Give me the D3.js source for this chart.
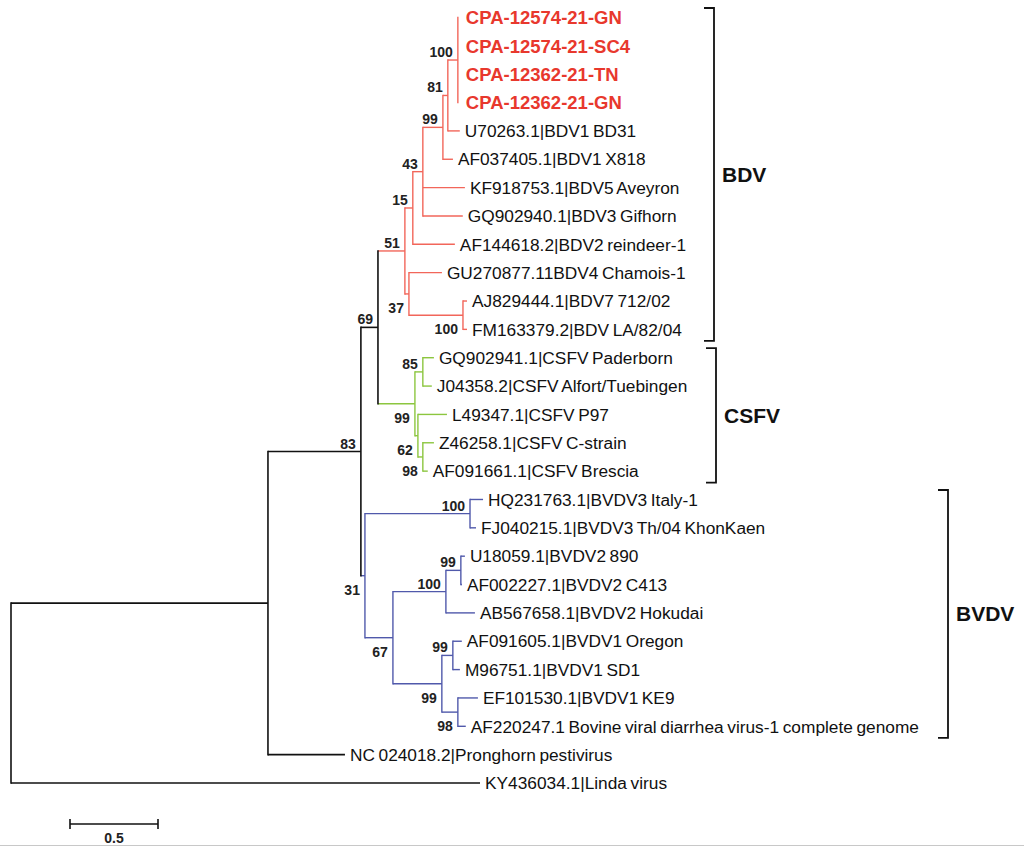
<!DOCTYPE html>
<html>
<head>
<meta charset="utf-8">
<script src="https://cdn.jsdelivr.net/npm/d3@7"></script>
<style>
  html, body { margin: 0; padding: 0; background: #fff; }
  svg { display: block; }
</style>
</head>
<body>
<svg id="chart" width="1024" height="846"></svg>
<script>
// ---------- DATA ----------
// Leaf labels, top to bottom
const leaves = [
  "CPA-12574-21-GN", "CPA-12574-21-SC4", "CPA-12362-21-TN", "CPA-12362-21-GN",
  "U70263.1|BDV1 BD31", "AF037405.1|BDV1 X818", "KF918753.1|BDV5 Aveyron",
  "GQ902940.1|BDV3 Gifhorn", "AF144618.2|BDV2 reindeer-1", "GU270877.11BDV4 Chamois-1",
  "AJ829444.1|BDV7 712/02", "FM163379.2|BDV LA/82/04",
  "GQ902941.1|CSFV Paderborn", "J04358.2|CSFV Alfort/Tuebingen", "L49347.1|CSFV P97",
  "Z46258.1|CSFV C-strain", "AF091661.1|CSFV Brescia",
  "HQ231763.1|BVDV3 Italy-1", "FJ040215.1|BVDV3 Th/04 KhonKaen",
  "U18059.1|BVDV2 890", "AF002227.1|BVDV2 C413", "AB567658.1|BVDV2 Hokudai",
  "AF091605.1|BVDV1 Oregon", "M96751.1|BVDV1 SD1", "EF101530.1|BVDV1 KE9",
  "AF220247.1 Bovine viral diarrhea virus-1 complete genome",
  "NC 024018.2|Pronghorn pestivirus", "KY436034.1|Linda virus"
];

// Study isolates (highlighted)
const highlighted = leaves.slice(0, 4);

// Tree edges: [child, parent, branch length (substitutions/site)]
const edges = [
  ["A", "root", 1.460],
  ["KY436034.1|Linda virus", "root", 2.665],
  ["B", "A", 0.528],
  ["NC 024018.2|Pronghorn pestivirus", "A", 0.4375],
  ["n69", "B", 0.097],
  ["n31", "B", 0.023],
  ["n51", "n69", 0.153],
  ["nCSFV", "n69", 0.210],
  ["n15", "n51", 0.045],
  ["n37", "n51", 0.023],
  ["n43", "n15", 0.057],
  ["AF144618.2|BDV2 reindeer-1", "n15", 0.239],
  ["n99a", "n43", 0.114],
  ["KF918753.1|BDV5 Aveyron", "n43", 0.239],
  ["GQ902940.1|BDV3 Gifhorn", "n43", 0.227],
  ["n81", "n99a", 0.028],
  ["AF037405.1|BDV1 X818", "n99a", 0.057],
  ["nCPA", "n81", 0.057],
  ["U70263.1|BDV1 BD31", "n81", 0.068],
  ["CPA-12574-21-GN", "nCPA", 0],
  ["CPA-12574-21-SC4", "nCPA", 0],
  ["CPA-12362-21-TN", "nCPA", 0],
  ["CPA-12362-21-GN", "nCPA", 0],
  ["GU270877.11BDV4 Chamois-1", "n37", 0.1875],
  ["n100aj", "n37", 0.307],
  ["AJ829444.1|BDV7 712/02", "n100aj", 0.023],
  ["FM163379.2|BDV LA/82/04", "n100aj", 0.023],
  ["n85", "nCSFV", 0.045],
  ["n62", "nCSFV", 0.017],
  ["GQ902941.1|CSFV Paderborn", "n85", 0.063],
  ["J04358.2|CSFV Alfort/Tuebingen", "n85", 0.051],
  ["L49347.1|CSFV P97", "n62", 0.165],
  ["n98c", "n62", 0.028],
  ["Z46258.1|CSFV C-strain", "n98c", 0.063],
  ["AF091661.1|CSFV Brescia", "n98c", 0.028],
  ["n100b3", "n31", 0.597],
  ["n67", "n31", 0.159],
  ["HQ231763.1|BVDV3 Italy-1", "n100b3", 0.074],
  ["FJ040215.1|BVDV3 Th/04 KhonKaen", "n100b3", 0.034],
  ["n100b2", "n67", 0.301],
  ["n99e", "n67", 0.278],
  ["n99d", "n100b2", 0.085],
  ["AB567658.1|BVDV2 Hokudai", "n100b2", 0.165],
  ["U18059.1|BVDV2 890", "n99d", 0.023],
  ["AF002227.1|BVDV2 C413", "n99d", 0.006],
  ["n99f", "n99e", 0.0625],
  ["n98g", "n99e", 0.091],
  ["AF091605.1|BVDV1 Oregon", "n99f", 0.051],
  ["M96751.1|BVDV1 SD1", "n99f", 0.040],
  ["EF101530.1|BVDV1 KE9", "n98g", 0.114],
  ["AF220247.1 Bovine viral diarrhea virus-1 complete genome", "n98g", 0.045]
];

// Bootstrap support values at internal nodes
const bootNodes  = ["nCPA","n81","n99a","n43","n15","n51","n37","n100aj","n69","nCSFV","n85","n62","n98c","B","n31","n100b3","n67","n100b2","n99d","n99e","n99f","n98g"];
const bootValues = [100,    81,   99,    43,   15,   51,   37,   100,     69,   99,     85,   62,   98,    83, 31,   100,     67,   100,     99,    99,    99,    98];

// Clades: names, root node, leaf index range
const cladeNames = ["BDV", "CSFV", "BVDV"];
const cladeRoots = ["n51", "nCSFV", "n31"];
const cladeFirst = [0, 12, 17];
const cladeLast  = [11, 16, 25];

// Scale bar length
const scaleBarValue = 0.5;

// ---------- STYLE ----------
const cladeColors = { BDV: "#f2665a", CSFV: "#8cc63f", BVDV: "#5059ab" };
const highlightColor = "#e8382d";
const belowLabel = new Set(["n37","n100aj","nCSFV","n62","n98c","n31","n67","n99e","n98g"]);
const font = "'Liberation Sans', Arial, Helvetica, sans-serif";

// ---------- LAYOUT ----------
const svg = d3.select("#chart");
const x = d3.scaleLinear().domain([0, 1]).range([11, 187]);
const y = d3.scaleLinear().domain([0, leaves.length - 1]).range([17.5, 783]);

const table = [["root", null, 0]].concat(edges);
const root = d3.stratify().id(d => d[0]).parentId(d => d[1])(table);

root.eachAfter(n => {
  n.minIdx = n.children ? d3.min(n.children, c => c.minIdx) : leaves.indexOf(n.id);
});
root.sort((a, b) => a.minIdx - b.minIdx);

root.eachBefore(n => {
  n.dist = n.parent ? n.parent.dist + n.data[2] : 0;
  n.px = x(n.dist);
});
root.eachAfter(n => {
  if (n.children) {
    n.py = (n.children[0].py + n.children[n.children.length - 1].py) / 2;
  } else {
    n.py = y(leaves.indexOf(n.id));
  }
});

const cladeOf = {};
cladeRoots.forEach((r, i) => cladeOf[r] = cladeNames[i]);
root.eachBefore(n => {
  n.clade = cladeOf[n.id] || (n.parent ? n.parent.clade : null);
});
const colorOf = n => n.clade ? cladeColors[n.clade] : "#111";
const widthOf = n => n.clade ? 1.4 : 1.6;

const gTree = svg.append("g");

// horizontal branches
gTree.selectAll("path.h")
  .data(root.descendants().filter(n => n.parent))
  .join("path")
  .attr("class", "h")
  .attr("d", n => `M${n.parent.px},${n.py}H${n.px}`)
  .attr("fill", "none")
  .attr("stroke", colorOf)
  .attr("stroke-width", widthOf);

// vertical connectors
gTree.selectAll("path.v")
  .data(root.descendants().filter(n => n.children))
  .join("path")
  .attr("class", "v")
  .attr("d", n => `M${n.px},${n.children[0].py - (n.clade ? 0.7 : 0.8)}V${n.children[n.children.length - 1].py + (n.clade ? 0.7 : 0.8)}`)
  .attr("fill", "none")
  .attr("stroke", colorOf)
  .attr("stroke-width", widthOf);

// leaf labels
gTree.selectAll("text.leaf")
  .data(root.leaves())
  .join("text")
  .attr("class", "leaf")
  .attr("x", n => n.px + (highlighted.includes(n.id) ? 8 : 5))
  .attr("y", n => n.py)
  .attr("dy", "0.36em")
  .attr("font-family", font)
  .attr("font-size", n => highlighted.includes(n.id) ? 18.5 : 17.3)
  .attr("font-weight", n => highlighted.includes(n.id) ? "bold" : "normal")
  .attr("word-spacing", n => highlighted.includes(n.id) ? 0 : -1.2)
  .attr("fill", n => highlighted.includes(n.id) ? highlightColor : "#111")
  .text(n => n.id);

// bootstrap labels
const bootMap = new Map(bootNodes.map((id, i) => [id, bootValues[i]]));
gTree.selectAll("text.boot")
  .data(root.descendants().filter(n => bootMap.has(n.id)))
  .join("text")
  .attr("class", "boot")
  .attr("x", n => n.px - 5)
  .attr("y", n => belowLabel.has(n.id) ? n.py + 19 : n.py - 3)
  .attr("text-anchor", "end")
  .attr("font-family", font)
  .attr("font-size", 14)
  .attr("font-weight", "bold")
  .attr("fill", "#222")
  .text(n => bootMap.get(n.id));

// clade brackets
const bracketX = [714, 716, 948];
const gBr = svg.append("g");
cladeNames.forEach((name, i) => {
  const y0 = y(cladeFirst[i]) - 9.5;
  const y1 = y(cladeLast[i]) + 11.5;
  const bx = bracketX[i];
  gBr.append("path")
    .attr("d", `M${bx - 10},${y0}H${bx}V${y1}H${bx - 10}`)
    .attr("fill", "none")
    .attr("stroke", "#111")
    .attr("stroke-width", 1.8);
  gBr.append("text")
    .attr("x", bx + 8)
    .attr("y", (y0 + y1) / 2)
    .attr("dy", "0.36em")
    .attr("font-family", font)
    .attr("font-size", 21)
    .attr("font-weight", "bold")
    .attr("fill", "#111")
    .text(name);
});

// scale bar
const sbY = 824;
const sbX0 = 70;
const sbX1 = sbX0 + (x(scaleBarValue) - x(0));
const gSb = svg.append("g").attr("stroke", "#111").attr("stroke-width", 1.6);
gSb.append("line").attr("x1", sbX0).attr("x2", sbX1).attr("y1", sbY).attr("y2", sbY);
gSb.append("line").attr("x1", sbX0).attr("x2", sbX0).attr("y1", sbY - 5).attr("y2", sbY + 5);
gSb.append("line").attr("x1", sbX1).attr("x2", sbX1).attr("y1", sbY - 5).attr("y2", sbY + 5);
svg.append("text")
  .attr("x", (sbX0 + sbX1) / 2)
  .attr("y", 843)
  .attr("text-anchor", "middle")
  .attr("font-family", font)
  .attr("font-size", 14)
  .attr("font-weight", "bold")
  .attr("fill", "#222")
  .text(scaleBarValue);

// bottom frame line
svg.append("line")
  .attr("x1", 0).attr("x2", 1024)
  .attr("y1", 845.5).attr("y2", 845.5)
  .attr("stroke", "#c8c8c8").attr("stroke-width", 1);
</script>
</body>
</html>
